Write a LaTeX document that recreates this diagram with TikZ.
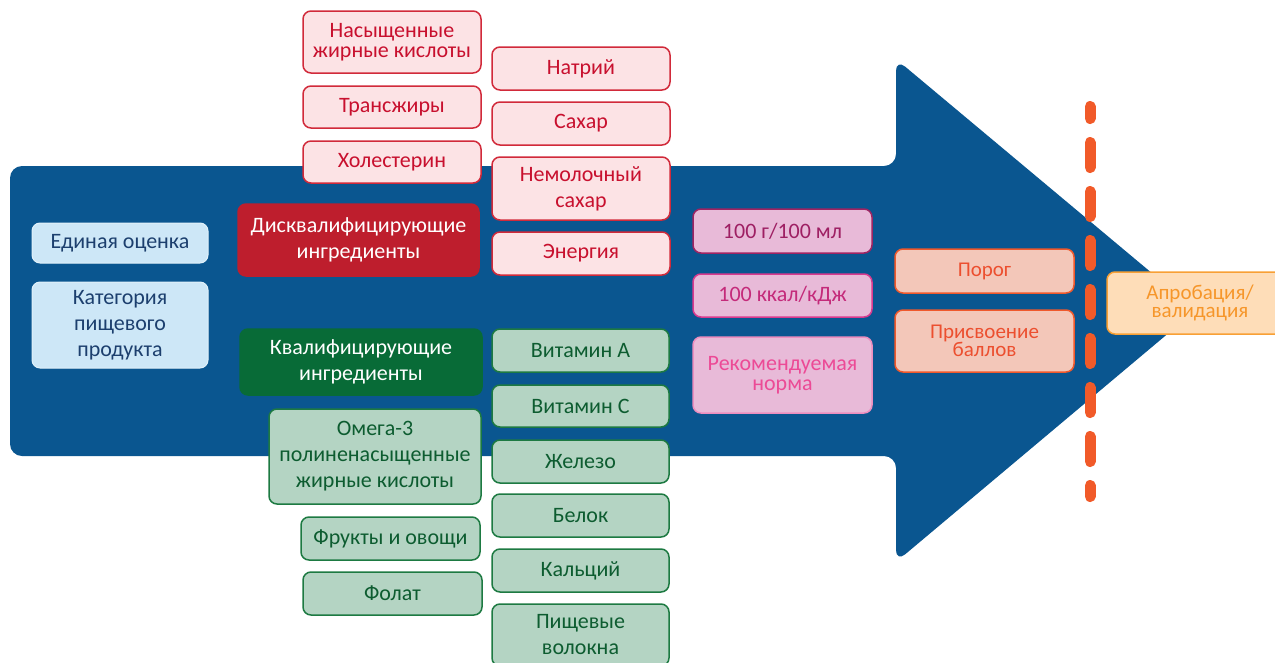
\documentclass[tikz,border=0pt]{standalone}
\usepackage{fontspec}
\setmainfont{Carlito}
\usetikzlibrary{calc}

\definecolor{arrowblue}{HTML}{0A5690}
\definecolor{blfill}{HTML}{CDE7F7}
\definecolor{bltext}{HTML}{1C3F6E}
\definecolor{disred}{HTML}{BE1E2D}
\definecolor{qualgreen}{HTML}{086B37}
\definecolor{rdfill}{HTML}{FCE3E5}
\definecolor{rdline}{HTML}{D12A3A}
\definecolor{rdtext}{HTML}{C8102E}
\definecolor{grfill}{HTML}{B4D4C3}
\definecolor{grline}{HTML}{1D7A42}
\definecolor{grtext}{HTML}{0D5C30}
\definecolor{pkfill}{HTML}{E8BAD8}
\definecolor{pkline1}{HTML}{9E2462}
\definecolor{pktext1}{HTML}{9E1F63}
\definecolor{pkline2}{HTML}{D93A8F}
\definecolor{pktext2}{HTML}{C42A7A}
\definecolor{pkline3}{HTML}{EC8EBF}
\definecolor{pktext3}{HTML}{EC4A96}
\definecolor{orfill}{HTML}{F3C7B9}
\definecolor{orline}{HTML}{F0592C}
\definecolor{ortext}{HTML}{EC4F2F}
\definecolor{vafill}{HTML}{FEDDB8}
\definecolor{valine}{HTML}{F8A035}
\definecolor{vatext}{HTML}{F6962A}
\definecolor{dashred}{HTML}{F15A29}

\begin{document}
\begin{tikzpicture}[x=1pt, y=-1pt,
    every node/.style={font=\fontsize{22}{26}\selectfont},
    box/.style={rectangle, rounded corners=8pt, line width=1.5pt, align=center, inner sep=0pt},
    wh/.style n args={2}{minimum width=#1pt, minimum height=#2pt},
    tight/.style={font=\fontsize{22}{20}\selectfont},
    small/.style={font=\fontsize{21}{18.5}\selectfont},
    bluebox/.style={box, fill=blfill, draw=blfill!60!white, line width=1pt, text=bltext},
    disbox/.style={box, fill=disred, draw=disred, text=white},
    qualbox/.style={box, fill=qualgreen, draw=qualgreen, text=white},
    redbox/.style={box, fill=rdfill, draw=rdline, text=rdtext},
    greenbox/.style={box, fill=grfill, draw=grline, text=grtext},
    pinkbox/.style={box, fill=pkfill},
    orbox/.style={box, fill=orfill, draw=orline, text=ortext, small},
    valbox/.style={box, fill=vafill, draw=valine, text=vatext, small}]
    %---- parameters
    \def\xs{10}    % left end of the shaft
    \def\xh{896}   % where the head starts
    \def\xt{1196}  % tip of the head
    \def\ys{166}   % shaft top
    \def\yb{456}   % shaft bottom
    \def\yht{59}   % head top
    \def\yhb{562}  % head bottom
    \useasboundingbox (0,0) rectangle (1275,662);

    %---- big arrow
    \fill[arrowblue, rounded corners=12pt]
      (\xs,\ys) -- (\xh,\ys) -- (\xh,\yht) -- (\xt,310) -- (\xh,\yhb)
      -- (\xh,\yb) -- (\xs,\yb) -- cycle;

    %---- dashed border line
    \coordinate (dtop) at (1090,106.5);
    \coordinate (dbot) at (1090,496.5);
    \draw[dashred, line width=11pt, line cap=round,
          dash pattern=on 25pt off 24pt, dash phase=13pt] (dtop) -- (dbot);

    %---- food category
    \node[bluebox, wh={176}{40}] (uni) at (120,243) {Единая оценка};
    \node[bluebox, wh={176}{86}] (cat) at (120,325) {Категория\\пищевого\\продукта};

    %---- disqualifying ingredients
    \node[disbox, wh={241}{72}] (dis) at (358.5,240) {Дисквалифицирующие\\ингредиенты};
    \node[redbox, tight, wh={178}{62}] (satfat) at (392,42) {Насыщенные\\жирные кислоты};
    \node[redbox, wh={178}{42}] (trans) at (392,107) {Трансжиры};
    \node[redbox, wh={178}{42}] (chol) at (392,162) {Холестерин};
    \node[redbox, wh={178}{43}] (sodium) at (581,68.5) {Натрий};
    \node[redbox, wh={178}{43}] (sugar) at (581,123.5) {Сахар};
    \node[redbox, wh={178}{63}] (nmsugar) at (581,188.5) {Немолочный\\сахар};
    \node[redbox, wh={178}{43}] (energy) at (581,253.5) {Энергия};

    %---- qualifying ingredients
    \node[qualbox, wh={242}{66}] (qual) at (361,362) {Квалифицирующие\\ингредиенты};
    \node[greenbox, wh={212}{95}] (omega) at (375,456.5) {Омега-3\\полиненасыщенные\\жирные кислоты};
    \node[greenbox, wh={179}{43}] (fruit) at (390.5,538.5) {Фрукты и овощи};
    \node[greenbox, wh={179}{43}] (folate) at (392.5,593.5) {Фолат};
    \node[greenbox, wh={177}{43}] (vita) at (580.5,350.5) {Витамин А};
    \node[greenbox, wh={177}{42}] (vitc) at (580.5,406) {Витамин С};
    \node[greenbox, wh={177}{43}] (iron) at (580.5,461.5) {Железо};
    \node[greenbox, wh={177}{43}] (protein) at (580.5,515.5) {Белок};
    \node[greenbox, wh={177}{43}] (calcium) at (580.5,570.5) {Кальций};
    \node[greenbox, wh={177}{62}] (fibre) at (580.5,635) {Пищевые\\волокна};

    %---- reference amounts
    \node[pinkbox, draw=pkline1, text=pktext1, wh={179}{44}] (per100) at (782.5,231) {100 г/100 мл};
    \node[pinkbox, draw=pkline2, text=pktext2, wh={179}{43}] (perkcal) at (782.5,295.5) {100 ккал/кДж};
    \node[pinkbox, tight, draw=pkline3, text=pktext3, wh={179}{76}] (norm) at (782.5,375) {Рекомендуемая\\норма};

    %---- scoring
    \node[orbox, wh={179}{44}] (thr) at (984.5,271) {Порог};
    \node[orbox, wh={179}{62}] (score) at (984.5,341) {Присвоение\\баллов};

    %---- validation
    \node[valbox, wh={186}{62}] (valid) at (1200,303) {Апробация/\\валидация};
\end{tikzpicture}
\end{document}
